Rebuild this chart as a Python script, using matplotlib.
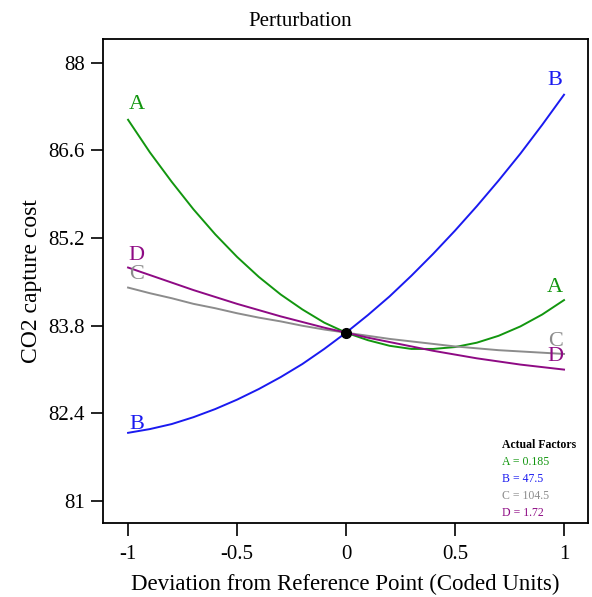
import numpy as np
import matplotlib
matplotlib.use("Agg")
import matplotlib.pyplot as plt

plt.rcParams['font.family'] = ['Liberation Serif', 'DejaVu Serif']

# Deviation from the reference point, coded units
deviation = np.linspace(-1, 1, 21)

# Predicted CO2 capture cost along each factor's trace
cost_a = [87.09, 86.57, 86.10, 85.66, 85.26, 84.90, 84.58, 84.30, 84.06, 83.85, 83.69,
          83.57, 83.48, 83.43, 83.43, 83.46, 83.53, 83.64, 83.79, 83.98, 84.21]
cost_b = [82.09, 82.15, 82.23, 82.34, 82.47, 82.62, 82.79, 82.98, 83.19, 83.43, 83.69,
          83.97, 84.27, 84.60, 84.95, 85.32, 85.71, 86.12, 86.55, 87.01, 87.49]
cost_c = [84.41, 84.32, 84.24, 84.15, 84.08, 84.00, 83.93, 83.87, 83.80, 83.74, 83.69,
          83.64, 83.59, 83.55, 83.51, 83.47, 83.44, 83.41, 83.39, 83.37, 83.35]
cost_d = [84.73, 84.61, 84.49, 84.37, 84.26, 84.15, 84.05, 83.95, 83.86, 83.77, 83.69,
          83.61, 83.54, 83.47, 83.40, 83.34, 83.28, 83.23, 83.18, 83.14, 83.10]

factor_names = ["A", "B", "C", "D"]
factor_values = ["0.185", "47.5", "104.5", "1.72"]
factor_colors = ["#12960f", "#1a1af0", "#8c8c8c", "#8e0a84"]
ref_point = (0.0, 83.69)

y_ticks = [81, 82.4, 83.8, 85.2, 86.6, 88]
x_ticks = [-1, -0.5, 0, 0.5, 1]

fig = plt.figure(figsize=(5.92, 5.97), dpi=100)
ax = fig.add_axes([103 / 592, 1 - 523 / 597, 485 / 592, 484 / 597])

traces = [cost_a, cost_b, cost_c, cost_d]
for name, trace, color in zip(factor_names, traces, factor_colors):
    ax.plot(deviation, trace, color=color, lw=1.4)

ax.plot(*ref_point, 'o', color='black', ms=7, zorder=5)

# curve end labels
label_kw = dict(fontsize=16, ha='center', va='center')
ax.text(-0.96, 87.33, "A", color=factor_colors[0], **label_kw)
ax.text(0.96, 84.41, "A", color=factor_colors[0], **label_kw)
ax.text(-0.96, 82.23, "B", color=factor_colors[1], **label_kw)
ax.text(0.96, 87.71, "B", color=factor_colors[1], **label_kw)
ax.text(-0.96, 84.62, "C", color=factor_colors[2], **label_kw)
ax.text(0.96, 83.55, "C", color=factor_colors[2], **label_kw)
ax.text(-0.96, 84.93, "D", color=factor_colors[3], **label_kw)
ax.text(0.96, 83.31, "D", color=factor_colors[3], **label_kw)

# actual factors box
ax.text(0.715, 81.90, "Actual Factors", fontsize=8.5, fontweight='bold',
        color='black', va='center')
for i, (name, val, color) in enumerate(zip(factor_names, factor_values, factor_colors)):
    ax.text(0.715, 81.62 - i * 0.27, f"{name} = {val}", fontsize=8.5,
            color=color, va='center')

ax.set_xlim(-1.115, 1.11)
ax.set_ylim(80.65, 88.38)
ax.set_xticks(x_ticks)
ax.set_xticklabels(["-1", "-0.5", "0", "0.5", "1"])
ax.set_yticks(y_ticks)
ax.set_yticklabels(["81", "82.4", "83.8", "85.2", "86.6", "88"])
ax.tick_params(direction='out', length=9, width=1.2, labelsize=15, pad=4)
ax.tick_params(axis='x', pad=7)
for spine in ax.spines.values():
    spine.set_linewidth(1.3)

fig.text(300 / 592, 1 - 21 / 597, "Perturbation", fontsize=15, ha='center', va='center')
ax.set_xlabel("Deviation from Reference Point (Coded Units)", fontsize=16.5, labelpad=7)
ax.set_ylabel("CO2 capture cost", fontsize=17, labelpad=5)

fig.savefig("out.png", dpi=100)
